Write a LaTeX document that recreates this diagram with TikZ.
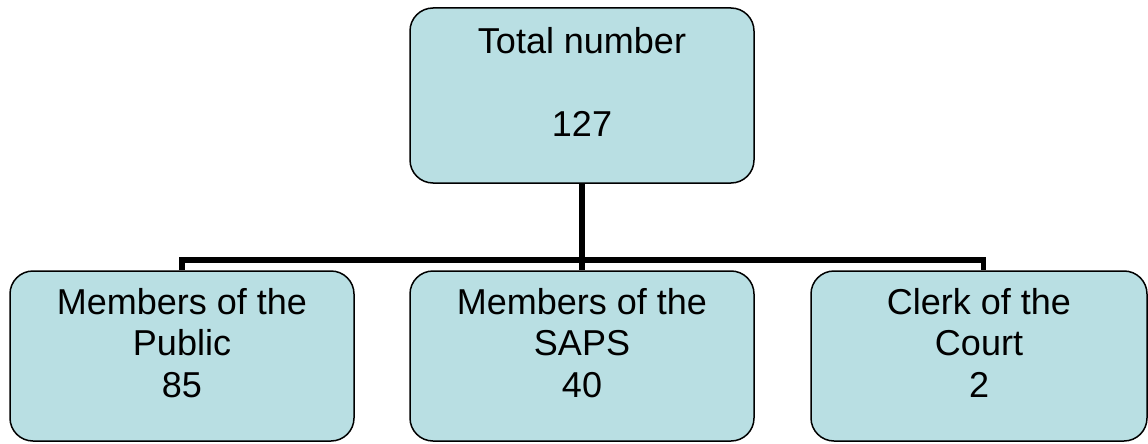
\documentclass[tikz,border=0pt]{standalone}
\usepackage{fontspec}
\setmainfont{Liberation Sans}
\definecolor{boxfill}{HTML}{B9DFE3}
\tikzset{
  orgbox/.style={draw=black, line width=1.5pt, fill=boxfill, rounded corners=23pt,
    rectangle, inner sep=0pt},
  orgtext/.style={anchor=north, align=center, inner sep=0pt,
    font=\fontsize{36}{41.5}\selectfont},
  conn/.style={draw=black, line width=5.5pt, line join=miter}
}
\begin{document}
\begin{tikzpicture}[x=1pt,y=-1pt]
\useasboundingbox (0,0) rectangle (1148,444);
\node[orgbox, minimum width=344pt, minimum height=175pt] (top) at (582,95.5) {};
\node[orgbox, minimum width=344pt, minimum height=170pt] (left) at (182,356) {};
\node[orgbox, minimum width=344pt, minimum height=170pt] (mid) at (582,356) {};
\node[orgbox, minimum width=336pt, minimum height=170pt] (right) at (979,356) {};
\coordinate (bar) at (0,260);
\draw[conn] (top.south) -- (mid.north);
\draw[conn] (left.north) -- (left.north |- bar) -- ([xshift=4.5pt]right.north |- bar) -- ([xshift=4.5pt]right.north);
\node[orgtext] (toptext) at (582,26.8) {Total number\\[41.5pt]127};
\node[orgtext] (lefttext) at (182,287.8) {Members of the\\Public\\85};
\node[orgtext] (midtext) at (582,287.8) {Members of the\\SAPS\\40};
\node[orgtext] (righttext) at (979,287.8) {Clerk of the\\Court\\2};
\end{tikzpicture}
\end{document}
